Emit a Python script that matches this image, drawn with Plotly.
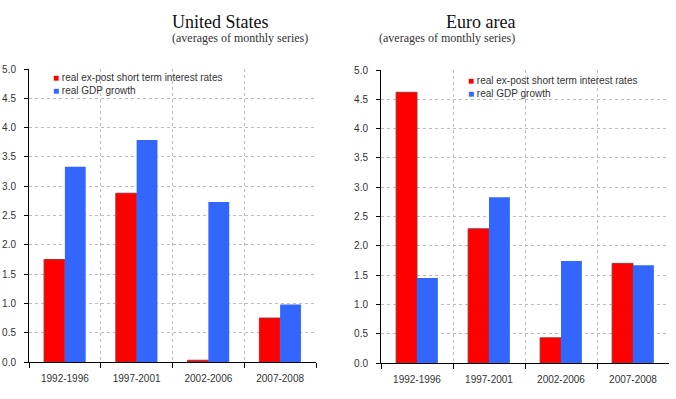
import plotly.graph_objects as go

categories = ["1992-1996", "1997-2001", "2002-2006", "2007-2008"]
us_rate = [1.75, 2.88, 0.03, 0.75]
us_gdp = [3.33, 3.79, 2.73, 0.98]
ea_rate = [4.62, 2.29, 0.43, 1.70]
ea_gdp = [1.45, 2.83, 1.74, 1.67]
series_names = ["real ex-post short term interest rates", "real GDP growth"]
titles = ["United States", "Euro area"]
subtitle = "(averages of monthly series)"

RED = "#ff0000"
RED_LINE = "#a3303a"
BLUE = "#3366ff"

fig = go.Figure()
for vals, xa, ya in [(us_rate, "x", "y"), (ea_rate, "x2", "y2")]:
    fig.add_trace(go.Bar(x=categories, y=vals, name=series_names[0], xaxis=xa, yaxis=ya,
                         marker=dict(color=RED, line=dict(color=RED_LINE, width=1))))
for vals, xa, ya in [(us_gdp, "x", "y"), (ea_gdp, "x2", "y2")]:
    fig.add_trace(go.Bar(x=categories, y=vals, name=series_names[1], xaxis=xa, yaxis=ya,
                         marker=dict(color=BLUE, line=dict(color=BLUE, width=0))))

tick_font = dict(family="Liberation Sans, Arial", size=10, color="#333333")
xcommon = dict(type="category", tickson="boundaries", showgrid=True, gridcolor="#bdbdbd",
               griddash="3px,3px", gridwidth=1, showline=True, linecolor="black", linewidth=1,
               ticks="outside", ticklen=5, tickcolor="black", tickfont=tick_font,
               ticklabelstandoff=7, range=[-0.5, 3.5], fixedrange=True, automargin=False)
ycommon = dict(range=[0, 5], dtick=0.5, tickformat=".1f", showgrid=True, gridcolor="#bdbdbd",
               griddash="3px,3px", gridwidth=1, showline=True, linecolor="black", linewidth=1,
               ticks="outside", ticklen=4, tickcolor="black", tickfont=tick_font,
               ticklabelstandoff=6, zeroline=False, fixedrange=True, automargin=False)

legend_font = dict(family="Liberation Sans, Arial", size=10, color="#333333")
serif = "Liberation Serif, Times New Roman"

def legend_box(x, y):
    text = (f'<span style="color:{RED}">■</span> {series_names[0]}<br>'
            f'<span style="color:{BLUE}">■</span> {series_names[1]}')
    return dict(text=text, x=x, y=y, xref="paper", yref="paper", xanchor="left",
                yanchor="middle", align="left", showarrow=False, font=legend_font)

annotations = [
    dict(text=titles[0], x=170/676, y=1 - 22/399, xref="paper", yref="paper", yanchor="middle",
         showarrow=False, font=dict(family=serif, size=18, color="#111111")),
    dict(text=subtitle, x=170/676, y=1 - 38/399, xref="paper", yref="paper", yanchor="middle",
         showarrow=False, font=dict(family=serif, size=12, color="#333333")),
    dict(text=titles[1], x=517/676, y=1 - 22/399, xref="paper", yref="paper", yanchor="middle",
         showarrow=False, font=dict(family=serif, size=18, color="#111111")),
    dict(text=subtitle, x=517/676, y=1 - 38/399, xref="paper", yref="paper", yanchor="middle",
         showarrow=False, font=dict(family=serif, size=12, color="#333333")),
    legend_box(51/676, 1 - 84/399),
    legend_box(466/676, 1 - 87/399),
]

fig.update_layout(
    width=676, height=399,
    margin=dict(l=0, r=0, t=0, b=0, pad=0, autoexpand=False),
    paper_bgcolor="white", plot_bgcolor="white",
    barmode="group", bargap=0.42, bargroupgap=0,
    showlegend=False,
    xaxis=dict(domain=[29/676, 316/676], anchor="y", **xcommon),
    yaxis=dict(domain=[37/399, 330/399], anchor="x", **ycommon),
    xaxis2=dict(domain=[381/676, 669/676], anchor="y2", **xcommon),
    yaxis2=dict(domain=[36/399, 329/399], anchor="x2", **ycommon),
    annotations=annotations,
)

fig.write_html("out.html", config={"displayModeBar": False},
               post_script="document.body.style.margin='0';")
